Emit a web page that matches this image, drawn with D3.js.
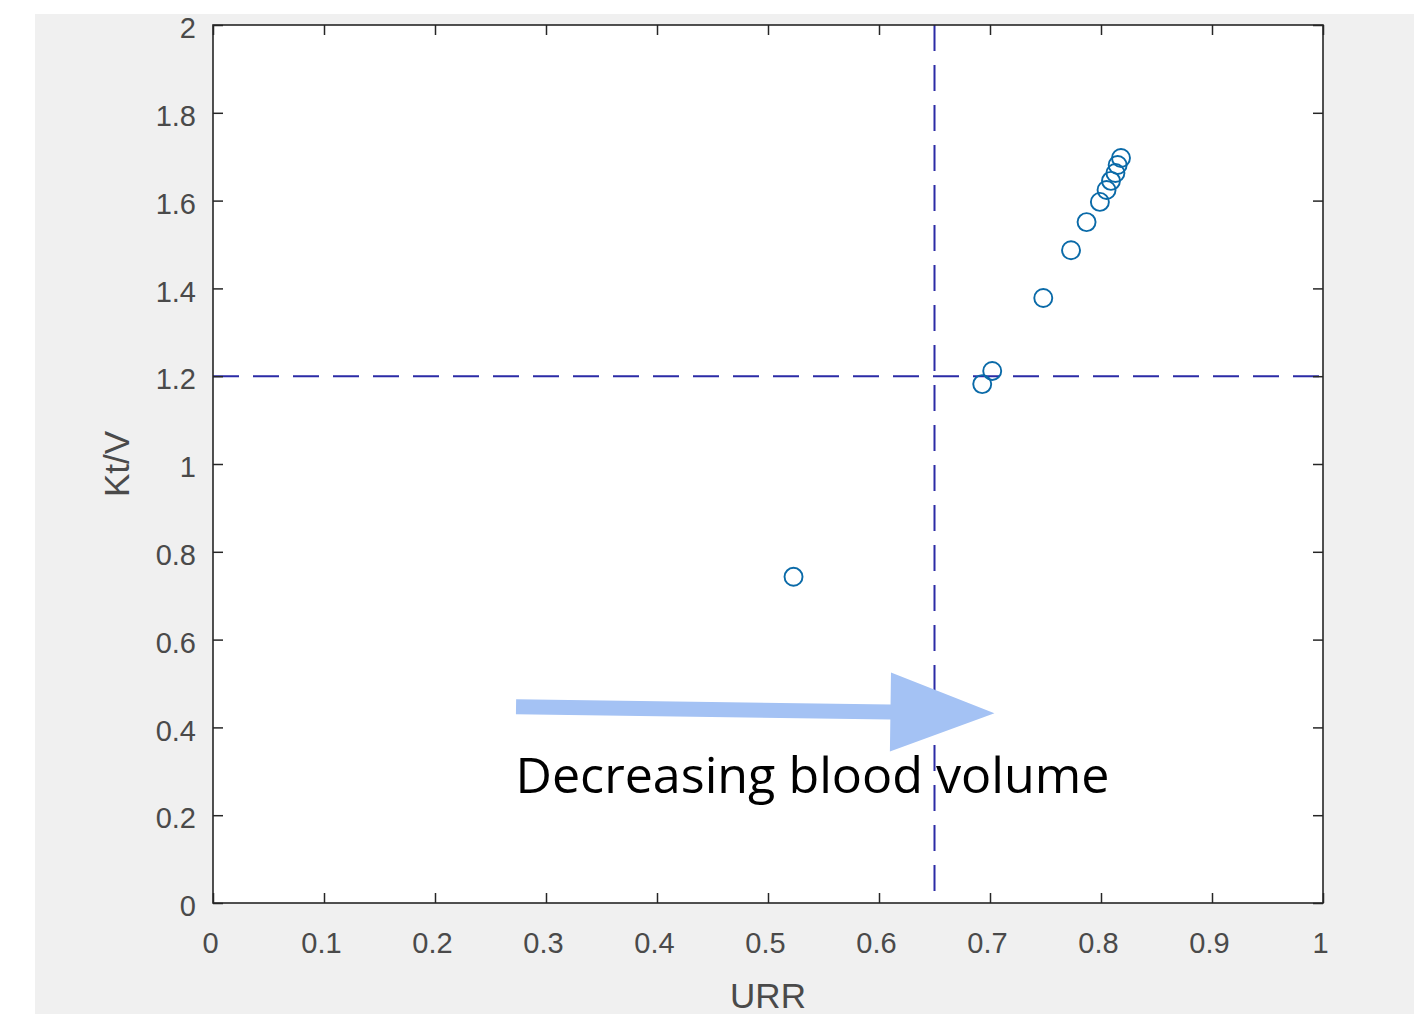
<!DOCTYPE html>
<html>
<head>
<meta charset="utf-8">
<script src="https://cdn.jsdelivr.net/npm/d3@7"></script>
<style>
  html, body { margin: 0; padding: 0; background: #ffffff; }
  svg { display: block; }
</style>
</head>
<body>
<svg id="chart" width="1414" height="1014"></svg>
<script>
// ---- data ----
const urr = [0.523, 0.693, 0.702, 0.748, 0.773, 0.787, 0.799, 0.805, 0.809, 0.813, 0.815, 0.818];
const ktv = [0.743, 1.182, 1.212, 1.378, 1.487, 1.551, 1.597, 1.624, 1.645, 1.663, 1.681, 1.697];
const xTicks = [0, 0.1, 0.2, 0.3, 0.4, 0.5, 0.6, 0.7, 0.8, 0.9, 1];
const yTicks = [0, 0.2, 0.4, 0.6, 0.8, 1, 1.2, 1.4, 1.6, 1.8, 2];
const xTickLabels = ["0", "0.1", "0.2", "0.3", "0.4", "0.5", "0.6", "0.7", "0.8", "0.9", "1"];
const yTickLabels = ["0", "0.2", "0.4", "0.6", "0.8", "1", "1.2", "1.4", "1.6", "1.8", "2"];
const urrThreshold = [0.65];
const ktvThreshold = [1.2];
const arrowStart = [0.273, 0.447];
const arrowEnd = [0.704, 0.432];
const annotationPos = [0.2725, 0.2506];
const annotationText = "Decreasing blood volume";
const xLabel = "URR";
const yLabel = "Kt/V";

// ---- layout ----
const svg = d3.select("#chart");
const W = 1414, H = 1014;
const plot = { left: 213, right: 1323, top: 25, bottom: 903 };

svg.append("rect").attr("x", 35).attr("y", 14).attr("width", W - 35).attr("height", H - 14).attr("fill", "#f0f0f0");
svg.append("rect").attr("x", plot.left).attr("y", plot.top)
  .attr("width", plot.right - plot.left).attr("height", plot.bottom - plot.top).attr("fill", "#ffffff");

const x = d3.scaleLinear().domain([0, 1]).range([plot.left, plot.right]);
const y = d3.scaleLinear().domain([0, 2]).range([plot.bottom, plot.top]);

const axisColor = "#262626";
const labelColor = "#4a4a4a";
const tickFont = "Liberation Sans, Arial, sans-serif";

// threshold lines
const dashColor = "#2b2ba6";
svg.selectAll(".vthr").data(urrThreshold).enter().append("line")
  .attr("x1", d => x(d)).attr("x2", d => x(d))
  .attr("y1", plot.top).attr("y2", plot.bottom)
  .attr("stroke", dashColor).attr("stroke-width", 2).attr("stroke-dasharray", "26,14");
svg.selectAll(".hthr").data(ktvThreshold).enter().append("line")
  .attr("x1", plot.left).attr("x2", plot.right)
  .attr("y1", d => y(d)).attr("y2", d => y(d))
  .attr("stroke", dashColor).attr("stroke-width", 2).attr("stroke-dasharray", "26,14");

// points
const pts = urr.map((u, i) => ({ u, k: ktv[i] }));
svg.selectAll(".pt").data(pts).enter().append("circle")
  .attr("cx", d => x(d.u)).attr("cy", d => y(d.k)).attr("r", 9)
  .attr("fill", "none").attr("stroke", "#0a6aa8").attr("stroke-width", 1.9);

// axes (MATLAB-like: inward ticks, box)
const tickLen = 10;
function styleAxis(g) {
  g.select(".domain").remove();
  g.selectAll(".tick line").attr("stroke", axisColor).attr("stroke-width", 1.5);
  g.selectAll(".tick text").attr("fill", labelColor).attr("font-family", tickFont).attr("font-size", 29);
}
const xAxisB = d3.axisBottom(x).tickValues(xTicks).tickSizeInner(-tickLen).tickSizeOuter(0)
  .tickPadding(22).tickFormat((d, i) => xTickLabels[i]);
svg.append("g").attr("transform", `translate(0,${plot.bottom})`).call(xAxisB).call(styleAxis)
  .selectAll(".tick text").attr("dx", -3).attr("dy", "0.71em").attr("y", 29);
const xAxisT = d3.axisTop(x).tickValues(xTicks).tickSizeInner(-tickLen).tickSizeOuter(0).tickFormat("");
svg.append("g").attr("transform", `translate(0,${plot.top})`).call(xAxisT).call(styleAxis);

const yAxisL = d3.axisLeft(y).tickValues(yTicks).tickSizeInner(-tickLen).tickSizeOuter(0)
  .tickPadding(18).tickFormat((d, i) => yTickLabels[i]);
svg.append("g").attr("transform", `translate(${plot.left},0)`).call(yAxisL).call(styleAxis)
  .selectAll(".tick text").attr("x", -17).attr("dy", "0.44em");
const yAxisR = d3.axisRight(y).tickValues(yTicks).tickSizeInner(-tickLen).tickSizeOuter(0).tickFormat("");
svg.append("g").attr("transform", `translate(${plot.right},0)`).call(yAxisR).call(styleAxis);

// box
svg.append("rect").attr("x", plot.left).attr("y", plot.top)
  .attr("width", plot.right - plot.left).attr("height", plot.bottom - plot.top)
  .attr("fill", "none").attr("stroke", axisColor).attr("stroke-width", 1.6);

// axis labels
svg.append("text").attr("x", 768).attr("y", 1008)
  .attr("text-anchor", "middle").attr("fill", labelColor).attr("font-family", tickFont).attr("font-size", 35)
  .text(xLabel);
svg.append("text").attr("transform", `translate(129,${(plot.top + plot.bottom) / 2}) rotate(-90)`)
  .attr("text-anchor", "middle").attr("fill", labelColor).attr("font-family", tickFont).attr("font-size", 35)
  .text(yLabel);

// arrow annotation
const ax0 = x(arrowStart[0]), ay0 = y(arrowStart[1]);
const ax1 = x(arrowEnd[0]), ay1 = y(arrowEnd[1]);
const headLen = 104, headHalf = 39.5, shaftHalf = 7.5;
const ang = Math.atan2(ay1 - ay0, ax1 - ax0);
const ux = Math.cos(ang), uy = Math.sin(ang), nx = -uy, ny = ux;
const bx = ax1 - ux * headLen, by = ay1 - uy * headLen;
const poly = [
  [ax0 + nx * shaftHalf, ay0 + ny * shaftHalf],
  [bx + nx * shaftHalf, by + ny * shaftHalf],
  [bx + nx * headHalf, by + ny * headHalf],
  [ax1, ay1],
  [bx - nx * headHalf, by - ny * headHalf],
  [bx - nx * shaftHalf, by - ny * shaftHalf],
  [ax0 - nx * shaftHalf, ay0 - ny * shaftHalf]
];
svg.append("path").attr("d", "M" + poly.map(p => p.join(",")).join("L") + "Z").attr("fill", "#a4c2f4");

const ann = svg.append("text").attr("x", x(annotationPos[0])).attr("y", y(annotationPos[1]))
  .attr("fill", "#000000").attr("font-family", "Open Sans, Noto Sans, sans-serif").attr("font-size", 48)
  .text(annotationText);
const targetW = 594;
const w0 = ann.node().getComputedTextLength();
ann.attr("font-size", 48 * targetW / w0);
</script>
</body>
</html>
